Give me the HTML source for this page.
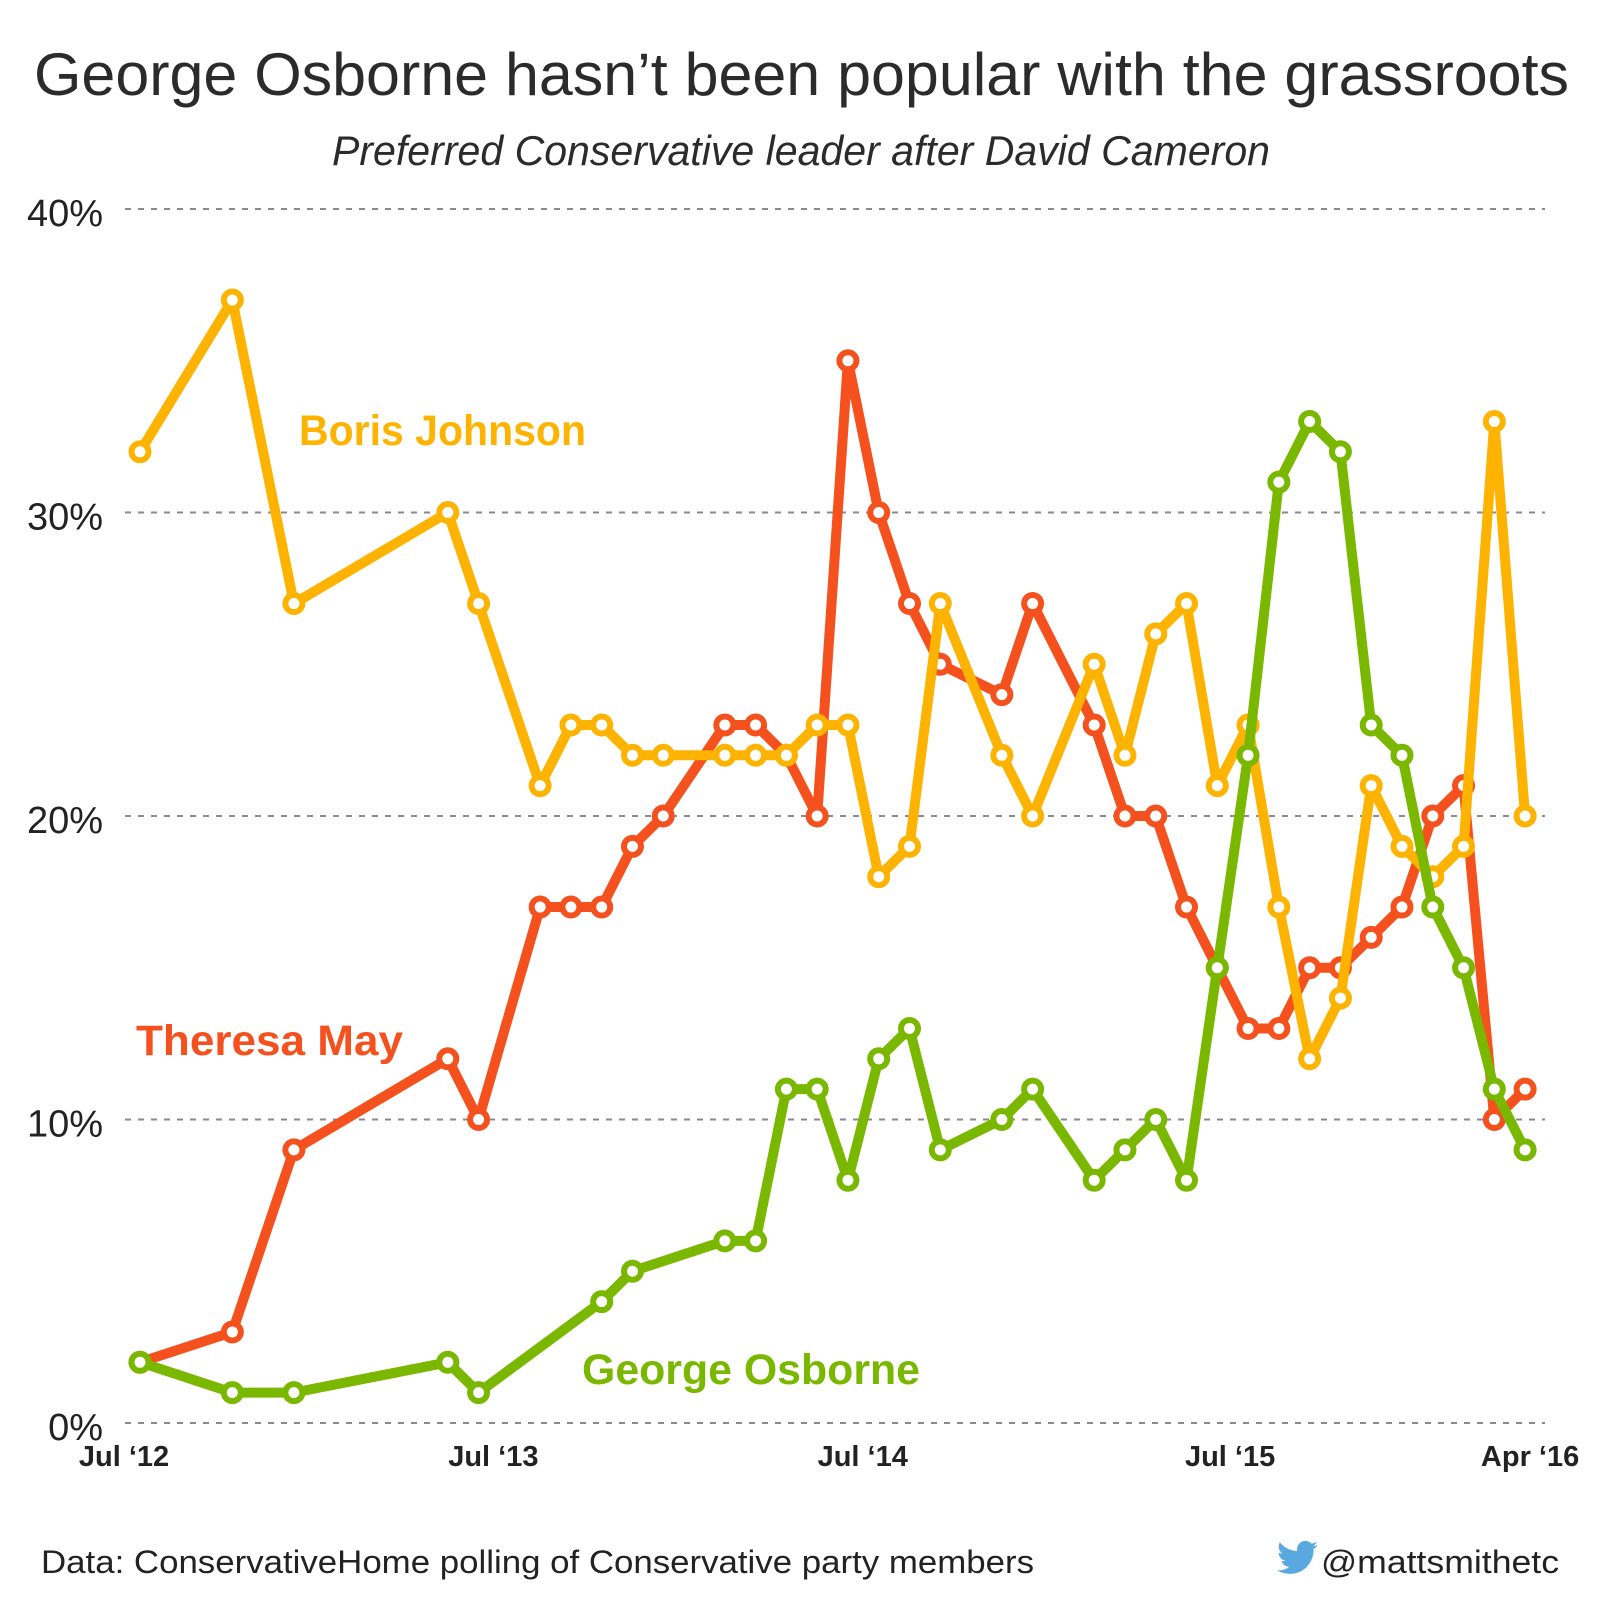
<!DOCTYPE html>
<html><head><meta charset="utf-8"><style>
html,body{margin:0;padding:0;background:#fff;}
svg{display:block;font-family:"Liberation Sans",sans-serif;}
</style></head><body>
<svg id="chart" width="1600" height="1600" viewBox="0 0 1600 1600" xmlns="http://www.w3.org/2000/svg">
<text x="34" y="95" font-size="60" fill="#2b2b2b" textLength="1535" lengthAdjust="spacingAndGlyphs">George Osborne hasn’t been popular with the grassroots</text>
<text x="332" y="165" font-size="42" font-style="italic" fill="#2b2b2b" textLength="938" lengthAdjust="spacingAndGlyphs">Preferred Conservative leader after David Cameron</text>
<g id="grid"></g>
<g id="yaxis"></g>
<g id="xaxis"></g>
<g id="series"></g>
<text x="299" y="445" font-size="43" font-weight="bold" fill="#FDB300" textLength="287" lengthAdjust="spacingAndGlyphs">Boris Johnson</text>
<text x="136" y="1055" font-size="43" font-weight="bold" fill="#F4511E" textLength="267" lengthAdjust="spacingAndGlyphs">Theresa May</text>
<text x="582" y="1384" font-size="43" font-weight="bold" fill="#7AB800" textLength="338" lengthAdjust="spacingAndGlyphs">George Osborne</text>
<text x="41" y="1573" font-size="32" fill="#222" textLength="993" lengthAdjust="spacingAndGlyphs">Data: ConservativeHome polling of Conservative party members</text>
<g transform="translate(1277,1537) scale(1.7)">
<path d="M24 4.6c-.9.4-1.8.7-2.8.8 1-.6 1.8-1.6 2.2-2.7-1 .6-2 1-3.1 1.2-.9-1-2.2-1.6-3.6-1.6-2.7 0-4.9 2.2-4.9 4.9 0 .4 0 .8.1 1.1C7.7 8.1 4.1 6.1 1.7 3.1c-.4.7-.7 1.6-.7 2.5 0 1.7.9 3.2 2.2 4.1-.8 0-1.6-.2-2.2-.6v.1c0 2.4 1.7 4.4 3.9 4.8-.4.1-.8.2-1.3.2-.3 0-.6 0-.9-.1.6 2 2.4 3.4 4.6 3.4-1.7 1.3-3.8 2.1-6.1 2.1-.4 0-.8 0-1.2-.1 2.2 1.4 4.8 2.2 7.5 2.2 9.1 0 14-7.5 14-14v-.6c1-.7 1.8-1.6 2.5-2.5z" fill="#5AA8E0"/>
</g>
<text x="1321" y="1573" font-size="32" fill="#222" textLength="238" lengthAdjust="spacingAndGlyphs">@mattsmithetc</text>
<script>
const months = [0,3,5,10,11,13,14,15,16,17,19,20,21,22,23,24,25,26,28,29,31,32,33,34,35,36,37,38,39,40,41,42,43,44,45];
const borisValues = [32,37,27,30,27,21,23,23,22,22,22,22,22,23,23,18,19,27,22,20,25,22,26,27,21,23,17,12,14,21,19,18,19,33,20];
const mayValues = [2,3,9,12,10,17,17,17,19,20,23,23,22,20,35,30,27,25,24,27,23,20,20,17,15,13,13,15,15,16,17,20,21,10,11];
const osborneValues = [2,1,1,2,1,null,null,4,5,null,6,6,11,11,8,12,13,9,10,11,8,9,10,8,15,22,31,33,32,23,22,17,15,11,9];
const yTicks = [0,10,20,30,40];
const yTickLabels = ["0%","10%","20%","30%","40%"];
const xTickMonths = [0,12,24,36,45];
const xTickLabels = ["Jul \u201812","Jul \u201813","Jul \u201814","Jul \u201815","Apr \u201816"];
const xTickOffsets = [-16,-16,-16,-18,5];

const NS = "http://www.w3.org/2000/svg";
function xScale(m){ return 140 + m * 30.78; }
function yScale(v){ return 1423 - v * 30.35; }
function mk(tag, attrs, parent){ const e = document.createElementNS(NS, tag); for (const k in attrs) e.setAttribute(k, attrs[k]); parent.appendChild(e); return e; }

const grid = document.getElementById('grid');
const yaxis = document.getElementById('yaxis');
yTicks.forEach((t,i)=>{
  const l = mk('line', {x1:125, x2:1545, y1:yScale(t), y2:yScale(t), stroke:'#8a8a8a', 'stroke-width':2, 'stroke-dasharray':'6,7'}, grid);
  
  
  const tx = mk('text', {x:103, y:yScale(t)+17, 'font-size':38, 'text-anchor':'end', fill:'#222'}, yaxis);
  tx.textContent = yTickLabels[i];
  
  
});
const xaxis = document.getElementById('xaxis');
xTickMonths.forEach((m,i)=>{
  const tx = mk('text', {x:xScale(m)+xTickOffsets[i], y:1466, 'font-size':29, 'font-weight':'bold', 'text-anchor':'middle', fill:'#222'}, xaxis);
  tx.textContent = xTickLabels[i];
  
  
});

const seriesG = document.getElementById('series');
function drawSeries(vals, color, name){
  const g = mk('g', {}, seriesG);
  
  
  const pts = [];
  vals.forEach((v,i)=>{ if (v !== null) pts.push([xScale(months[i]), yScale(v)]); });
  const p = mk('polyline', {points: pts.map(p=>p.join(',')).join(' '), fill:'none', stroke:color, 'stroke-width':10, 'stroke-linejoin':'round', 'stroke-linecap':'round'}, g);
  
  
  pts.forEach(pt=>{
    const c = mk('circle', {cx:pt[0], cy:pt[1], r:8.5, fill:'#fff', stroke:color, 'stroke-width':6}, g);
    
    
  });
}
drawSeries(mayValues, '#F4511E', 'theresa-may');
drawSeries(borisValues, '#FDB300', 'boris-johnson');
drawSeries(osborneValues, '#7AB800', 'george-osborne');
</script>
</svg>
</body></html>
